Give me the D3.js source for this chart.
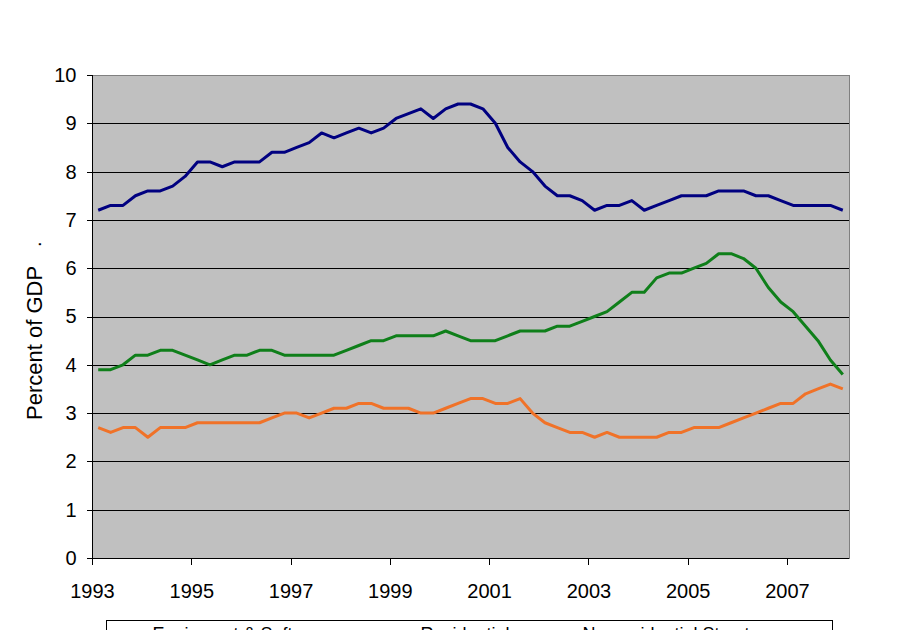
<!DOCTYPE html>
<html>
<head>
<meta charset="utf-8">
<script src="https://cdn.jsdelivr.net/npm/d3@7"></script>
<style>
  body { margin: 0; background: #fff; }
  svg text { font-family: Arial, "Liberation Sans", sans-serif; fill: #000; }
  .axis path, .axis line { stroke: #000; shape-rendering: crispEdges; }
  .grid line { stroke: #000; shape-rendering: crispEdges; }
</style>
</head>
<body>
<div id="chart"></div>
<script>
// quarterly, 1993Q1 .. 2008Q1
const yTicks = [0, 1, 2, 3, 4, 5, 6, 7, 8, 9, 10];
const xTickLabels = ['1993', '1995', '1997', '1999', '2001', '2003', '2005', '2007'];
const seriesNames = ['Equipment & Software', 'Residential', 'Nonresidential Structures'];
const seriesColors = ['#000080', '#0f7f1a', '#f07228'];

const equipment = [
    7.2, 7.3, 7.3, 7.5, 7.6, 7.6, 7.7, 7.9, 8.2, 8.2,
    8.1, 8.2, 8.2, 8.2, 8.4, 8.4, 8.5, 8.6, 8.8, 8.7,
    8.8, 8.9, 8.8, 8.9, 9.1, 9.2, 9.3, 9.1, 9.3, 9.4,
    9.4, 9.3, 9.0, 8.5, 8.2, 8.0, 7.7, 7.5, 7.5, 7.4,
    7.2, 7.3, 7.3, 7.4, 7.2, 7.3, 7.4, 7.5, 7.5, 7.5,
    7.6, 7.6, 7.6, 7.5, 7.5, 7.4, 7.3, 7.3, 7.3, 7.3,
    7.2
];
const residential = [
    3.9, 3.9, 4.0, 4.2, 4.2, 4.3, 4.3, 4.2, 4.1, 4.0,
    4.1, 4.2, 4.2, 4.3, 4.3, 4.2, 4.2, 4.2, 4.2, 4.2,
    4.3, 4.4, 4.5, 4.5, 4.6, 4.6, 4.6, 4.6, 4.7, 4.6,
    4.5, 4.5, 4.5, 4.6, 4.7, 4.7, 4.7, 4.8, 4.8, 4.9,
    5.0, 5.1, 5.3, 5.5, 5.5, 5.8, 5.9, 5.9, 6.0, 6.1,
    6.3, 6.3, 6.2, 6.0, 5.6, 5.3, 5.1, 4.8, 4.5, 4.1,
    3.8
];
const structures = [
    2.7, 2.6, 2.7, 2.7, 2.5, 2.7, 2.7, 2.7, 2.8, 2.8,
    2.8, 2.8, 2.8, 2.8, 2.9, 3.0, 3.0, 2.9, 3.0, 3.1,
    3.1, 3.2, 3.2, 3.1, 3.1, 3.1, 3.0, 3.0, 3.1, 3.2,
    3.3, 3.3, 3.2, 3.2, 3.3, 3.0, 2.8, 2.7, 2.6, 2.6,
    2.5, 2.6, 2.5, 2.5, 2.5, 2.5, 2.6, 2.6, 2.7, 2.7,
    2.7, 2.8, 2.9, 3.0, 3.1, 3.2, 3.2, 3.4, 3.5, 3.6,
    3.5
];

const width = 909, height = 630;
const plot = { left: 92, right: 849, top: 75, bottom: 558 };

const svg = d3.select('#chart').append('svg')
    .attr('width', width)
    .attr('height', height);

const nCat = equipment.length;
const x = d3.scaleLinear().domain([0, nCat]).range([plot.left, plot.right]);
const y = d3.scaleLinear().domain([0, 10]).range([plot.bottom, plot.top]);

// plot area
svg.append('rect')
    .attr('x', plot.left).attr('y', plot.top)
    .attr('width', plot.right - plot.left)
    .attr('height', plot.bottom - plot.top)
    .attr('fill', '#c0c0c0')
    .attr('stroke', '#808080')
    .attr('stroke-width', 1)
    .attr('shape-rendering', 'crispEdges');

svg.append('g')
    .attr('class', 'grid')
    .selectAll('line')
    .data(yTicks.filter(d => d > 0 && d < 10))
    .enter().append('line')
        .attr('x1', plot.left).attr('x2', plot.right)
        .attr('y1', d => Math.round(y(d)) + 0.5)
        .attr('y2', d => Math.round(y(d)) + 0.5);

// lines
const line = d3.line()
    .x((d, i) => x(i + 0.5))
    .y(d => y(d));

[equipment, residential, structures].forEach((vals, k) => {
    svg.append('path')
        .datum(vals)
        .attr('fill', 'none')
        .attr('stroke', seriesColors[k])
        .attr('stroke-width', 3)
        .attr('stroke-linejoin', 'round')
        .attr('d', line);
});

// axes
const yAxis = d3.axisLeft(y)
    .tickValues(yTicks)
    .tickSize(6)
    .tickPadding(10)
    .tickFormat(d3.format('d'));

svg.append('g')
    .attr('class', 'axis')
    .attr('transform', `translate(${plot.left + 0.5}, 0)`)
    .call(yAxis)
    .call(g => g.select('.domain').attr('d', `M0,${plot.top}V${plot.bottom}`))
    .selectAll('text')
        .attr('font-size', 20);

const xAxis = d3.axisBottom(x)
    .tickValues(xTickLabels.map((d, i) => i * 8))
    .tickSize(6)
    .tickPadding(19)
    .tickFormat((d, i) => xTickLabels[i]);

svg.append('g')
    .attr('class', 'axis')
    .attr('transform', `translate(0, ${plot.bottom + 0.5})`)
    .call(xAxis)
    .call(g => g.select('.domain').attr('d', `M${plot.left},0H${plot.right}`))
    .selectAll('text')
        .attr('font-size', 20);

// y title
svg.append('text')
    .attr('transform', 'translate(42, 420) rotate(-90)')
    .attr('font-size', 22)
    .text('Percent of GDP');

svg.append('text')
    .attr('transform', 'translate(41, 247) rotate(-90)')
    .attr('font-size', 20)
    .text('.');

// legend (mostly below the window)
const legend = svg.append('g').attr('transform', 'translate(106.5, 620.5)');
legend.append('rect')
    .attr('width', 726).attr('height', 40)
    .attr('fill', '#fff')
    .attr('stroke', '#000');

const legendX = [46, 314, 476];
seriesNames.forEach((name, k) => {
    const item = legend.append('g').attr('transform', `translate(${legendX[k]}, 0)`);
    item.append('line')
        .attr('x1', -36).attr('x2', -6)
        .attr('y1', 13).attr('y2', 13)
        .attr('stroke', seriesColors[k])
        .attr('stroke-width', 3);
    item.append('text')
        .attr('x', 0).attr('y', 19)
        .attr('font-size', 18)
        .text(name);
});
</script>
</body>
</html>
